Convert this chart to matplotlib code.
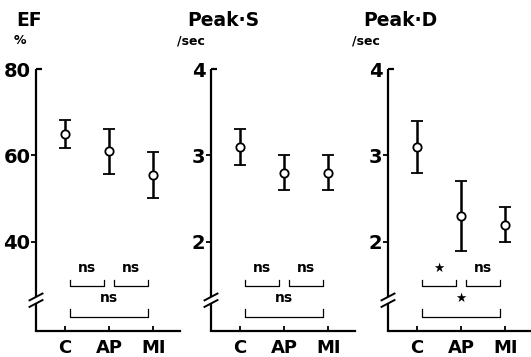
import matplotlib
matplotlib.use('Agg')
import matplotlib.pyplot as plt

groups = ['C', 'AP', 'MI']

ef_mean = [65.0, 61.0, 55.5]
ef_sd = [3.2, 5.2, 5.3]

peak_s_mean = [3.1, 2.8, 2.8]
peak_s_sd = [0.21, 0.2, 0.2]

peak_d_mean = [3.1, 2.3, 2.2]
peak_d_sd = [0.3, 0.4, 0.2]

titles = ['EF', 'Peak·S', 'Peak·D']
units = ['%', '/sec', '/sec']
yticks = [[40, 60, 80], [2, 3, 4], [2, 3, 4]]
ylims = [(19.4, 80), (0.97, 4), (0.97, 4)]

# significance: (C vs AP, AP vs MI, C vs MI)
sig_ef = ['ns', 'ns', 'ns']
sig_s = ['ns', 'ns', 'ns']
sig_d = ['★', 'ns', '★']

plt.rcParams['font.family'] = ['DejaVu Sans']
plt.rcParams['font.weight'] = 'bold'

fig = plt.figure(figsize=(5.31, 3.57), dpi=100)

lefts = [36 / 531, 211 / 531, 388 / 531]
width = 144 / 531
bottom = 26 / 357
height = 262 / 357

means = [ef_mean, peak_s_mean, peak_d_mean]
sds = [ef_sd, peak_s_sd, peak_d_sd]
sigs = [sig_ef, sig_s, sig_d]
title_x = [16, 187, 363]
unit_x = [14, 177, 352]

lw = 1.6
for i in range(3):
    ax = fig.add_axes([lefts[i], bottom, width, height])
    x = list(range(len(groups)))
    ax.errorbar(x, means[i], yerr=sds[i], fmt='o', color='black',
                mfc='white', mec='black', mew=1.3, ms=6,
                elinewidth=1.8, capsize=4, capthick=3.5, zorder=3)
    ax.set_xlim(-0.66, 2.61)
    ax.set_ylim(*ylims[i])

    for s in ['top', 'right', 'left']:
        ax.spines[s].set_visible(False)
    ax.spines['bottom'].set_linewidth(lw)

    # broken left spine
    lo, hi = 0.105, 0.13
    ax.plot([0, 0], [0, lo], transform=ax.transAxes, color='black', lw=lw, clip_on=False, solid_capstyle='butt')
    ax.plot([0, 0], [hi, 1], transform=ax.transAxes, color='black', lw=lw, clip_on=False, solid_capstyle='butt')
    dx, dy = 0.045, 0.013
    for yb in (lo, hi):
        ax.plot([-dx, dx], [yb - dy, yb + dy], transform=ax.transAxes, color='black', lw=1.4, clip_on=False)
    # top cap
    ax.plot([0, 0.04], [1, 1], transform=ax.transAxes, color='black', lw=lw, clip_on=False, solid_capstyle='butt')

    ax.set_yticks(yticks[i])
    ax.set_yticklabels([str(t) for t in yticks[i]], fontsize=14, fontweight='bold')
    ax.tick_params(axis='y', direction='out', length=3.5, width=1.3, pad=0.5)
    ax.yaxis.get_major_ticks()[-1].tick1line.set_visible(False)

    ax.set_xticks(x)
    ax.set_xticklabels(groups, fontsize=13, fontweight='bold')
    ax.tick_params(axis='x', direction='in', length=3.5, width=1.3, pad=5.5)

    # significance brackets
    tr = ax.get_xaxis_transform()
    pairs = [(0.12, 0.88), (1.12, 1.88), (0.12, 1.88)]
    rows = [(0.172, 0.022, 0.240), (0.172, 0.022, 0.240), (0.053, 0.032, 0.126)]
    for (x0, x1), (yb, h, yt), lab in zip(pairs, rows, sigs[i]):
        ax.plot([x0, x0, x1, x1], [yb + h, yb, yb, yb + h], transform=tr,
                color='black', lw=0.9, clip_on=False)
        fs = 9 if lab == '★' else 10
        ax.text((x0 + x1) / 2, yt, lab, transform=tr, ha='center', va='center',
                fontsize=fs, fontweight='bold')

    fig.text(title_x[i] / 531, 1 - 20 / 357, titles[i], fontsize=13.5, fontweight='bold',
             ha='left', va='center')
    fig.text(unit_x[i] / 531, 1 - 41 / 357, units[i], fontsize=9, fontweight='bold',
             ha='left', va='center')

fig.savefig('out.png', dpi=100)
